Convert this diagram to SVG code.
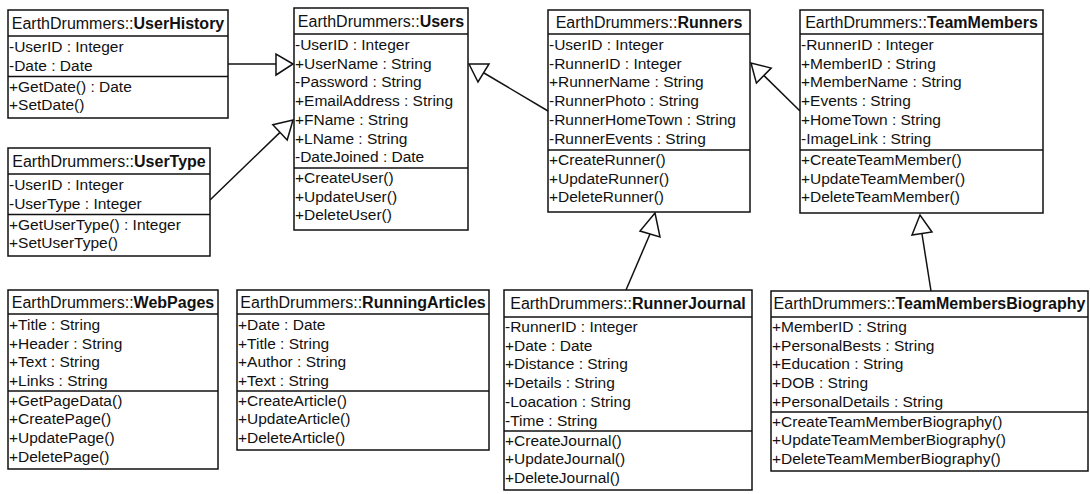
<svg xmlns="http://www.w3.org/2000/svg" width="1090" height="494" viewBox="0 0 1090 494">
<style>
.box{fill:#fff;stroke:#111;stroke-width:1.5}
.sep{stroke:#111;stroke-width:1.5}
.h{font-family:"Liberation Sans",Arial,sans-serif;font-size:16px;fill:#111;text-anchor:middle}
.h tspan.b{font-weight:bold}
.t{font-family:"Liberation Sans",Arial,sans-serif;font-size:15.5px;fill:#111}
.ln{stroke:#111;stroke-width:1.5;fill:none}
.tri{fill:#fff;stroke:#111;stroke-width:1.5;stroke-linejoin:miter}
</style>
<rect width="1090" height="494" fill="#fff"/>

<g id="connectors">
  <line class="ln" x1="228" y1="64" x2="276" y2="64"/>
  <polygon class="tri" points="293,64 276,54 276,75"/>
  <line class="ln" x1="210" y1="200" x2="280" y2="132.4"/>
  <polygon class="tri" points="293,120 287.2,140 272.8,124.8"/>
  <line class="ln" x1="548" y1="111" x2="484" y2="73"/>
  <polygon class="tri" points="469,64 489,64 478,82"/>
  <line class="ln" x1="800" y1="111" x2="764" y2="75.6"/>
  <polygon class="tri" points="751,63 756.4,83.1 771.2,68.1"/>
  <line class="ln" x1="626" y1="290" x2="650" y2="234"/>
  <polygon class="tri" points="655,213 640,231 660,237"/>
  <line class="ln" x1="931" y1="291" x2="922" y2="234"/>
  <polygon class="tri" points="920,215 912,235 932,232"/>
</g>

<g id="UserHistory">
  <rect class="box" x="8" y="10" width="220" height="108"/>
  <line class="sep" x1="8" y1="36" x2="228" y2="36"/>
  <line class="sep" x1="8" y1="76.5" x2="228" y2="76.5"/>
  <text class="h" x="118" y="29">EarthDrummers::<tspan class="b">UserHistory</tspan></text>
  <text class="t" x="9" y="52">-UserID : Integer</text>
  <text class="t" x="9" y="70.7">-Date : Date</text>
  <text class="t" x="9" y="91.5">+GetDate() : Date</text>
  <text class="t" x="9" y="110">+SetDate()</text>
</g>

<g id="UserType">
  <rect class="box" x="8" y="148" width="202" height="108"/>
  <line class="sep" x1="8" y1="174" x2="210" y2="174"/>
  <line class="sep" x1="8" y1="214.5" x2="210" y2="214.5"/>
  <text class="h" x="109" y="167">EarthDrummers::<tspan class="b">UserType</tspan></text>
  <text class="t" x="9" y="190">-UserID : Integer</text>
  <text class="t" x="9" y="208.7">-UserType : Integer</text>
  <text class="t" x="9" y="229.5">+GetUserType() : Integer</text>
  <text class="t" x="9" y="248">+SetUserType()</text>
</g>

<g id="Users">
  <rect class="box" x="294" y="8" width="174" height="222"/>
  <line class="sep" x1="294" y1="34" x2="468" y2="34"/>
  <line class="sep" x1="294" y1="168" x2="468" y2="168"/>
  <text class="h" x="381" y="27">EarthDrummers::<tspan class="b">Users</tspan></text>
  <text class="t" x="295" y="50">-UserID : Integer</text>
  <text class="t" x="295" y="68.7">+UserName : String</text>
  <text class="t" x="295" y="87.4">-Password : String</text>
  <text class="t" x="295" y="106.1">+EmailAddress : String</text>
  <text class="t" x="295" y="124.8">+FName : String</text>
  <text class="t" x="295" y="143.5">+LName : String</text>
  <text class="t" x="295" y="162.2">-DateJoined : Date</text>
  <text class="t" x="295" y="183">+CreateUser()</text>
  <text class="t" x="295" y="201.7">+UpdateUser()</text>
  <text class="t" x="295" y="220.4">+DeleteUser()</text>
</g>

<g id="Runners">
  <rect class="box" x="548" y="10" width="202" height="202"/>
  <line class="sep" x1="548" y1="34" x2="750" y2="34"/>
  <line class="sep" x1="548" y1="150" x2="750" y2="150"/>
  <text class="h" x="649" y="28">EarthDrummers::<tspan class="b">Runners</tspan></text>
  <text class="t" x="549" y="50">-UserID : Integer</text>
  <text class="t" x="549" y="68.7">-RunnerID : Integer</text>
  <text class="t" x="549" y="87.4">+RunnerName : String</text>
  <text class="t" x="549" y="106.1">-RunnerPhoto : String</text>
  <text class="t" x="549" y="124.8">-RunnerHomeTown : String</text>
  <text class="t" x="549" y="143.5">-RunnerEvents : String</text>
  <text class="t" x="549" y="165">+CreateRunner()</text>
  <text class="t" x="549" y="183.7">+UpdateRunner()</text>
  <text class="t" x="549" y="202.4">+DeleteRunner()</text>
</g>

<g id="TeamMembers">
  <rect class="box" x="800" y="10" width="243" height="203"/>
  <line class="sep" x1="800" y1="34" x2="1043" y2="34"/>
  <line class="sep" x1="800" y1="150" x2="1043" y2="150"/>
  <text class="h" x="921.5" y="28">EarthDrummers::<tspan class="b">TeamMembers</tspan></text>
  <text class="t" x="801" y="50">-RunnerID : Integer</text>
  <text class="t" x="801" y="68.7">+MemberID : String</text>
  <text class="t" x="801" y="87.4">+MemberName : String</text>
  <text class="t" x="801" y="106.1">+Events : String</text>
  <text class="t" x="801" y="124.8">+HomeTown : String</text>
  <text class="t" x="801" y="143.5">-ImageLink : String</text>
  <text class="t" x="801" y="165">+CreateTeamMember()</text>
  <text class="t" x="801" y="183.7">+UpdateTeamMember()</text>
  <text class="t" x="801" y="202.4">+DeleteTeamMember()</text>
</g>

<g id="WebPages">
  <rect class="box" x="8" y="290" width="210" height="179"/>
  <line class="sep" x1="8" y1="314" x2="218" y2="314"/>
  <line class="sep" x1="8" y1="391" x2="218" y2="391"/>
  <text class="h" x="113" y="308">EarthDrummers::<tspan class="b">WebPages</tspan></text>
  <text class="t" x="9" y="330">+Title : String</text>
  <text class="t" x="9" y="348.7">+Header : String</text>
  <text class="t" x="9" y="367.4">+Text : String</text>
  <text class="t" x="9" y="386.1">+Links : String</text>
  <text class="t" x="9" y="405.5">+GetPageData()</text>
  <text class="t" x="9" y="424.2">+CreatePage()</text>
  <text class="t" x="9" y="442.9">+UpdatePage()</text>
  <text class="t" x="9" y="461.6">+DeletePage()</text>
</g>

<g id="RunningArticles">
  <rect class="box" x="237" y="290" width="252" height="160"/>
  <line class="sep" x1="237" y1="314" x2="489" y2="314"/>
  <line class="sep" x1="237" y1="391" x2="489" y2="391"/>
  <text class="h" x="363" y="308">EarthDrummers::<tspan class="b">RunningArticles</tspan></text>
  <text class="t" x="238" y="330">+Date : Date</text>
  <text class="t" x="238" y="348.7">+Title : String</text>
  <text class="t" x="238" y="367.4">+Author : String</text>
  <text class="t" x="238" y="386.1">+Text : String</text>
  <text class="t" x="238" y="405.5">+CreateArticle()</text>
  <text class="t" x="238" y="424.2">+UpdateArticle()</text>
  <text class="t" x="238" y="442.9">+DeleteArticle()</text>
</g>

<g id="RunnerJournal">
  <rect class="box" x="504" y="290" width="248" height="200"/>
  <line class="sep" x1="504" y1="317" x2="752" y2="317"/>
  <line class="sep" x1="504" y1="431" x2="752" y2="431"/>
  <text class="h" x="628" y="309">EarthDrummers::<tspan class="b">RunnerJournal</tspan></text>
  <text class="t" x="505" y="332">-RunnerID : Integer</text>
  <text class="t" x="505" y="350.7">+Date : Date</text>
  <text class="t" x="505" y="369.4">+Distance : String</text>
  <text class="t" x="505" y="388.1">+Details : String</text>
  <text class="t" x="505" y="406.8">-Loacation : String</text>
  <text class="t" x="505" y="425.5">-Time : String</text>
  <text class="t" x="505" y="445.5">+CreateJournal()</text>
  <text class="t" x="505" y="464.2">+UpdateJournal()</text>
  <text class="t" x="505" y="482.9">+DeleteJournal()</text>
</g>

<g id="TeamMembersBiography">
  <rect class="box" x="771" y="291" width="317" height="180"/>
  <line class="sep" x1="771" y1="317" x2="1088" y2="317"/>
  <line class="sep" x1="771" y1="412" x2="1088" y2="412"/>
  <text class="h" x="929.5" y="309">EarthDrummers::<tspan class="b">TeamMembersBiography</tspan></text>
  <text class="t" x="772" y="332">+MemberID : String</text>
  <text class="t" x="772" y="350.7">+PersonalBests : String</text>
  <text class="t" x="772" y="369.4">+Education : String</text>
  <text class="t" x="772" y="388.1">+DOB : String</text>
  <text class="t" x="772" y="406.8">+PersonalDetails : String</text>
  <text class="t" x="772" y="426.5">+CreateTeamMemberBiography()</text>
  <text class="t" x="772" y="445.2">+UpdateTeamMemberBiography()</text>
  <text class="t" x="772" y="463.9">+DeleteTeamMemberBiography()</text>
</g>
</svg>
